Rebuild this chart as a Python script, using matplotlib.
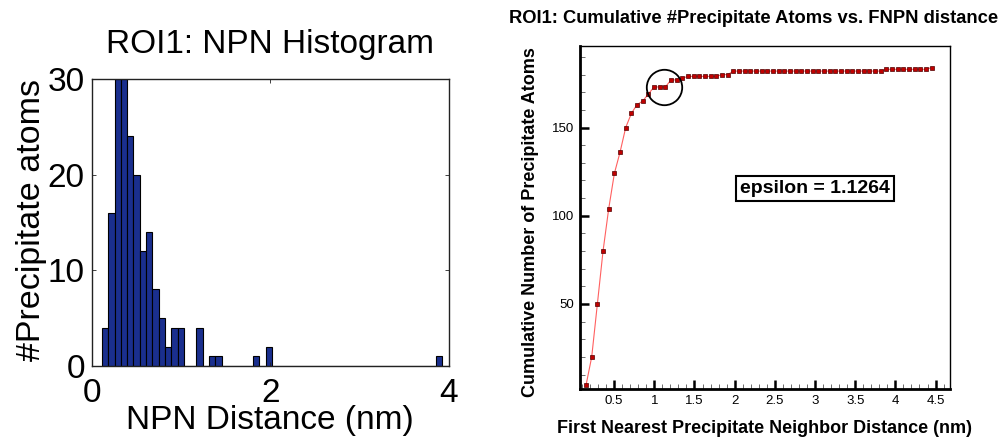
import numpy as np
import matplotlib
matplotlib.use("Agg")
import matplotlib.pyplot as plt
from matplotlib.ticker import MultipleLocator

plt.rcParams['font.family'] = ['Liberation Sans', 'DejaVu Sans']

# ---- data ----
bin_start = 0.115
bin_width = 0.0705
counts = [4, 16, 30, 30, 24, 20, 12, 14, 8, 5, 2, 4, 4, 0, 0, 4, 0, 1, 1, 0,
          0, 0, 0, 0, 1, 0, 2, 0, 0, 0, 0, 0, 0, 0, 0, 0, 0, 0, 0, 0,
          0, 0, 0, 0, 0, 0, 0, 0, 0, 0, 0, 0, 0, 1, 0, 0, 0, 0, 0, 0,
          0, 1]
epsilon = 1.1264
circle_y = 173

counts = np.array(counts)
centers = bin_start + bin_width * (np.arange(len(counts)) + 0.5)
cumulative = np.cumsum(counts)

W, H = 999, 438
fig = plt.figure(figsize=(W / 100, H / 100), dpi=100)

def fx(px):
    return px / W

def fy(py):
    return 1 - py / H

# ---- left: histogram ----
ax1 = fig.add_axes([fx(91.7), fy(366), fx(449) - fx(91.7), fy(79) - fy(366)])
ax1.bar(centers, counts, width=bin_width, color='#1a2f8e', edgecolor='black',
        linewidth=0.8)
ax1.set_xlim(0, 4)
ax1.set_ylim(0, 30)
ax1.set_xticks([0, 2, 4])
ax1.set_yticks([0, 10, 20, 30])
ax1.tick_params(direction='in', length=3, width=0.6, top=True, right=True,
                labelsize=24, colors='#222222', labelcolor='black')
ax1.tick_params(axis='x', pad=9)
ax1.tick_params(axis='y', pad=5)
for s in ax1.spines.values():
    s.set_linewidth(1.0)
    s.set_color('#222222')

fig.text(fx(270.5), fy(53), 'ROI1: NPN Histogram', fontsize=24,
         ha='center', va='baseline')
fig.text(fx(269.5), fy(429), 'NPN Distance (nm)', fontsize=24,
         ha='center', va='baseline')
fig.text(fx(32), fy(220), '#Precipitate atoms', fontsize=24.5,
         ha='center', va='center', rotation=90)

# ---- right: cumulative ----
ax2 = fig.add_axes([fx(580), fy(389), fx(950) - fx(580), fy(45.7) - fy(389)])
ax2.plot(centers, cumulative, '-', color='#ff6060', linewidth=0.8, zorder=2)
ax2.plot(centers, cumulative, 's', markersize=3, markerfacecolor='#c00000',
         markeredgecolor='#500000', markeredgewidth=0.5, linestyle='none',
         zorder=3)
ax2.plot([epsilon], [circle_y], 'o', markersize=25.5, fillstyle='none',
         markeredgecolor='black', markeredgewidth=1.3, zorder=4)
ax2.set_xlim(0.075, 4.68)
ax2.set_ylim(1.8, 196.4)
ax2.xaxis.set_major_locator(MultipleLocator(0.5))
ax2.xaxis.set_minor_locator(MultipleLocator(0.1))
ax2.yaxis.set_major_locator(MultipleLocator(50))
ax2.yaxis.set_minor_locator(MultipleLocator(10))
ax2.set_xticks([0.5, 1, 1.5, 2, 2.5, 3, 3.5, 4, 4.5])
ax2.set_xticklabels(['0.5', '1', '1.5', '2', '2.5', '3', '3.5', '4', '4.5'])
ax2.tick_params(which='major', direction='in', length=6.5, width=1.8,
                labelsize=9.5, pad=4)
ax2.tick_params(which='minor', direction='in', length=3.5, width=0.6,
                color='#555555')
for name in ['left', 'bottom']:
    ax2.spines[name].set_linewidth(2.0)
for name in ['right', 'top']:
    ax2.spines[name].set_linewidth(1.0)

fig.text(fx(815), fy(188.5), 'epsilon = %.4f' % epsilon, fontsize=14,
         fontweight='bold', ha='center', va='center',
         bbox=dict(boxstyle='square,pad=0.22', facecolor='white',
                   edgecolor='black', linewidth=1.5))

fig.text(fx(754), fy(23.3), 'ROI1: Cumulative #Precipitate Atoms vs. FNPN distance',
         fontsize=13.2, fontweight='bold', ha='center', va='baseline')
fig.text(fx(764.5), fy(432.7), 'First Nearest Precipitate Neighbor Distance (nm)',
         fontsize=13, fontweight='bold', ha='center', va='baseline')
fig.text(fx(530.5), fy(222), 'Cumulative Number of Precipitate Atoms',
         fontsize=13, fontweight='bold', ha='center', va='center', rotation=90)

fig.savefig('out.png', dpi=100)
